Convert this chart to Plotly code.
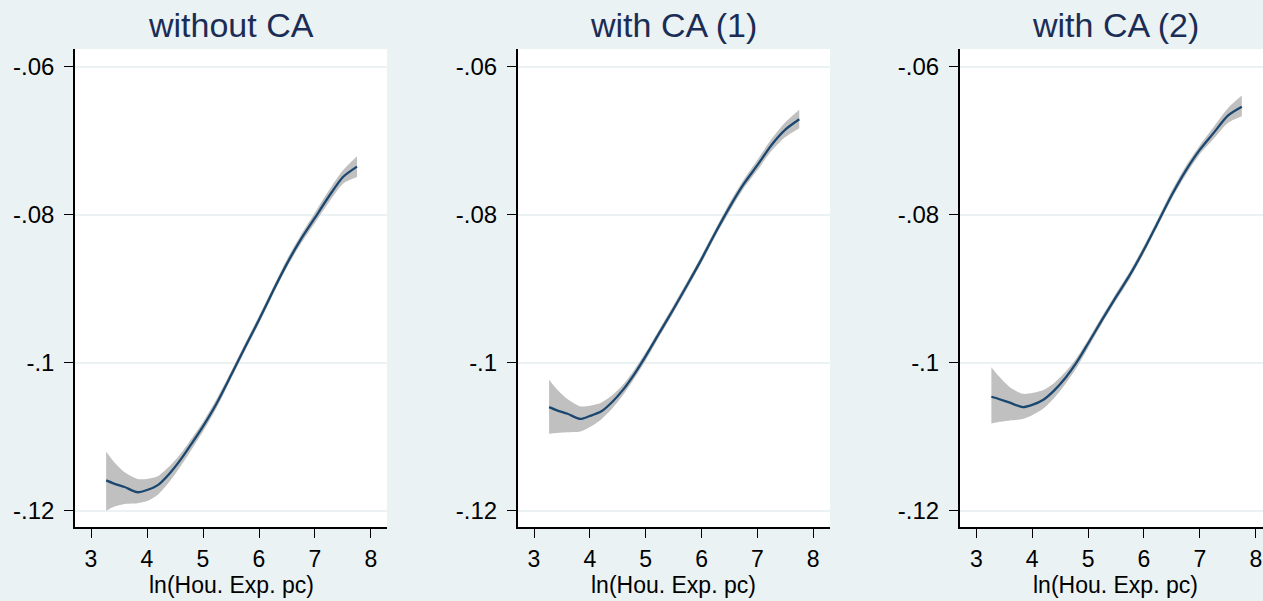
import plotly.graph_objects as go

# ---- data ----
x_grid = [3.27, 3.4, 3.6, 3.83, 4.0, 4.2, 4.4, 4.6, 4.8, 5.0, 5.25, 5.5,
          5.75, 6.0, 6.25, 6.5, 6.75, 7.0, 7.25, 7.5, 7.75]

titles = ["without CA", "with CA (1)", "with CA (2)"]

est_noca = [-0.1159, -0.1163, -0.1168, -0.1175, -0.1172, -0.1165, -0.1150, -0.1131,
            -0.1109, -0.1086, -0.1054, -0.1017, -0.0979, -0.0942, -0.0903, -0.0866,
            -0.0833, -0.0804, -0.0775, -0.0749, -0.0735]
up_noca = [-0.1120, -0.1133, -0.1148, -0.1157, -0.1157, -0.1153, -0.1140, -0.1123,
           -0.1102, -0.1080, -0.1048, -0.1012, -0.0974, -0.0937, -0.0898, -0.0860,
           -0.0827, -0.0797, -0.0767, -0.0740, -0.0721]
lo_noca = [-0.1200, -0.1195, -0.1191, -0.1190, -0.1187, -0.1178, -0.1161, -0.1140,
           -0.1117, -0.1093, -0.1060, -0.1022, -0.0984, -0.0947, -0.0908, -0.0871,
           -0.0839, -0.0811, -0.0783, -0.0758, -0.0749]

est_ca1 = [-0.1060, -0.1064, -0.1069, -0.1076, -0.1072, -0.1066, -0.1053, -0.1036,
           -0.1015, -0.0991, -0.0959, -0.0927, -0.0894, -0.0860, -0.0824, -0.0790,
           -0.0759, -0.0733, -0.0706, -0.0685, -0.0671]
up_ca1 = [-0.1023, -0.1035, -0.1049, -0.1059, -0.1058, -0.1054, -0.1044, -0.1029,
          -0.1009, -0.0986, -0.0954, -0.0922, -0.0889, -0.0855, -0.0819, -0.0784,
          -0.0753, -0.0726, -0.0698, -0.0675, -0.0658]
lo_ca1 = [-0.1096, -0.1095, -0.1094, -0.1093, -0.1087, -0.1077, -0.1062, -0.1043,
          -0.1021, -0.0997, -0.0964, -0.0932, -0.0899, -0.0865, -0.0829, -0.0796,
          -0.0765, -0.0740, -0.0714, -0.0695, -0.0683]

est_ca2 = [-0.1046, -0.1049, -0.1054, -0.1060, -0.1057, -0.1050, -0.1037, -0.1020,
           -0.0999, -0.0974, -0.0942, -0.0911, -0.0881, -0.0847, -0.0810, -0.0773,
           -0.0740, -0.0712, -0.0689, -0.0666, -0.0654]
up_ca2 = [-0.1006, -0.1018, -0.1033, -0.1042, -0.1041, -0.1037, -0.1027, -0.1012,
          -0.0993, -0.0969, -0.0937, -0.0906, -0.0876, -0.0842, -0.0805, -0.0767,
          -0.0734, -0.0706, -0.0681, -0.0656, -0.0639]
lo_ca2 = [-0.1082, -0.1080, -0.1078, -0.1076, -0.1071, -0.1062, -0.1047, -0.1028,
          -0.1006, -0.0980, -0.0947, -0.0916, -0.0886, -0.0852, -0.0815, -0.0778,
          -0.0746, -0.0718, -0.0697, -0.0676, -0.0667]

x_tickvals = [3, 4, 5, 6, 7, 8]
y_tickvals = [-0.12, -0.1, -0.08, -0.06]
y_ticktext = ["-.12", "-.1", "-.08", "-.06"]
x_title = "ln(Hou. Exp. pc)"

# ---- styling ----
BG = "#EAF2F3"
LINE = "#1A476F"
BAND = "#C0C0C0"
TITLE_C = "#1C2D55"
FONT = "Liberation Sans, Arial, sans-serif"

W, H = 1263, 601
plot_left = [75, 517.7, 959.7]
plot_right = [387, 830, 1263]
x_ranges = [[2.714, 8.286], [2.708, 8.300], [2.703, 8.129]]
y_range = [-0.1222, -0.0576]
y_dom = [(H - 527) / H, (H - 49) / H]

series = [(est_noca, up_noca, lo_noca), (est_ca1, up_ca1, lo_ca1), (est_ca2, up_ca2, lo_ca2)]

fig = go.Figure()
annotations = []
for i, (est, up, lo) in enumerate(series):
    xa = "x" if i == 0 else f"x{i+1}"
    ya = "y" if i == 0 else f"y{i+1}"
    fig.add_trace(go.Scatter(x=x_grid, y=lo, mode="lines", line=dict(width=0, color=BAND, shape="spline", smoothing=0.7),
                             xaxis=xa, yaxis=ya, showlegend=False, hoverinfo="skip"))
    fig.add_trace(go.Scatter(x=x_grid, y=up, mode="lines", line=dict(width=0, color=BAND, shape="spline", smoothing=0.7),
                             fill="tonexty", fillcolor=BAND,
                             xaxis=xa, yaxis=ya, showlegend=False, hoverinfo="skip"))
    fig.add_trace(go.Scatter(x=x_grid, y=est, mode="lines", line=dict(width=2.3, color=LINE, shape="spline", smoothing=0.7),
                             xaxis=xa, yaxis=ya, showlegend=False))

    dom = [plot_left[i] / W, plot_right[i] / W]
    xkey = "xaxis" if i == 0 else f"xaxis{i+1}"
    ykey = "yaxis" if i == 0 else f"yaxis{i+1}"
    fig.update_layout(**{
        xkey: dict(domain=dom, range=x_ranges[i], anchor=ya, tickvals=x_tickvals,
                   showgrid=False, zeroline=False, showline=True, linecolor="black", linewidth=1.5,
                   ticks="outside", ticklen=9, tickwidth=1.3, tickcolor="black",
                   tickfont=dict(family=FONT, size=23, color="black"), ticklabelstandoff=2),
        ykey: dict(domain=y_dom, range=y_range, anchor=xa, tickvals=y_tickvals, ticktext=y_ticktext,
                   showgrid=True, gridcolor=BG, gridwidth=1.5, zeroline=False,
                   showline=True, linecolor="black", linewidth=1.5,
                   ticks="outside", ticklen=9, tickwidth=1.3, tickcolor="black",
                   tickfont=dict(family=FONT, size=24, color="black"), ticklabelstandoff=5),
    })
    cx = (plot_left[i] + 156) / W
    annotations.append(dict(text=titles[i], x=cx, y=1 - 25 / H, xref="paper", yref="paper",
                            xanchor="center", yanchor="middle", showarrow=False,
                            font=dict(family=FONT, size=34, color=TITLE_C)))
    annotations.append(dict(text=x_title, x=cx, y=(H - 585) / H, xref="paper", yref="paper",
                            xanchor="center", yanchor="middle", showarrow=False,
                            font=dict(family=FONT, size=23, color="black")))

fig.update_layout(width=W, height=H, margin=dict(l=0, r=0, t=0, b=0),
                  paper_bgcolor=BG, plot_bgcolor="white", annotations=annotations,
                  showlegend=False)

fig.write_html("out.html", config={"displayModeBar": False},
               post_script="document.body.style.margin='0';document.body.style.background='#EAF2F3';document.body.style.overflow='hidden';")
